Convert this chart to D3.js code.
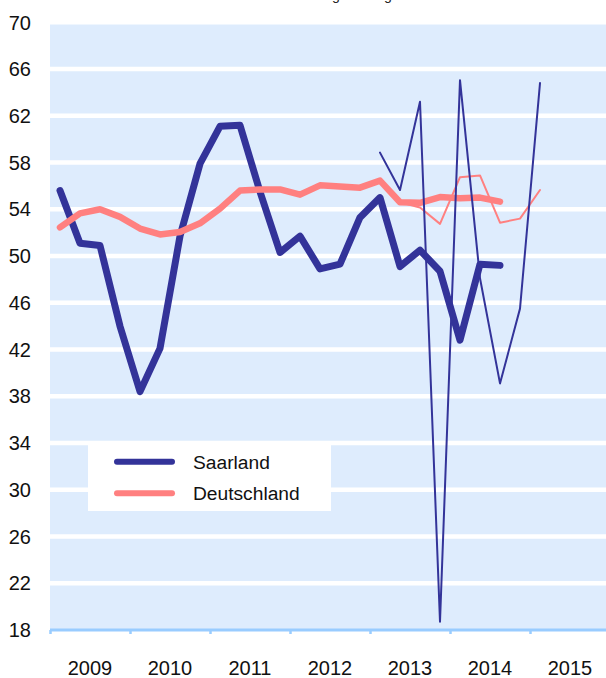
<!DOCTYPE html>
<html>
<head>
<meta charset="utf-8">
<script src="https://cdn.jsdelivr.net/npm/d3@7"></script>
<style>
  body { margin: 0; background: #fff; }
  svg { display: block; font-family: "Liberation Sans", Arial, sans-serif; }
</style>
</head>
<body>
<div id="chart"></div>
<script>
// quarters 2009 Q1 .. 2015 Q1
var quarters = [
  "2009Q1","2009Q2","2009Q3","2009Q4","2010Q1","2010Q2","2010Q3","2010Q4",
  "2011Q1","2011Q2","2011Q3","2011Q4","2012Q1","2012Q2","2012Q3","2012Q4",
  "2013Q1","2013Q2","2013Q3","2013Q4","2014Q1","2014Q2","2014Q3","2014Q4",
  "2015Q1"
];
var years = [2009, 2010, 2011, 2012, 2013, 2014, 2015];
var yTicks = [18, 22, 26, 30, 34, 38, 42, 46, 50, 54, 58, 62, 66, 70];

var saarland = [55.6, 51.1, 50.9, 44.0, 38.4, 42.1, 51.7, 57.9, 61.1, 61.2, 55.5, 50.3,
  51.7, 48.9, 49.3, 53.3, 55.0, 49.1, 50.5, 48.7, 42.8, 49.3, 49.2];
var deutschland = [52.45, 53.65, 54.0, 53.35, 52.35, 51.85, 52.05, 52.8, 54.05, 55.6, 55.7, 55.7,
  55.25, 56.05, 55.95, 55.85, 56.45, 54.6, 54.55, 55.05, 54.95, 55.0, 54.65];
// thin lines (second series, from 2013Q1)
var saarlandThin = [null, null, null, null, null, null, null, null, null, null, null, null,
  null, null, null, null, 58.85, 55.65, 63.2, 18.7, 65.05, 48.1, 39.1, 45.5, 64.8];
var deutschlandThin = [null, null, null, null, null, null, null, null, null, null, null, null,
  null, null, null, null, 56.45, 54.6, 54.15, 52.75, 56.75, 56.9, 52.85, 53.2, 55.65];

var width = 606, height = 678;
var margin = {top: 22.3, left: 50, bottom: 48};

var svg = d3.select("#chart").append("svg")
  .attr("width", width)
  .attr("height", height);

function qNum(q) {
  return +q.slice(0, 4) + (+q.slice(5) - 0.5) / 4;
}

var x = d3.scaleLinear().domain([2009, 2016]).range([margin.left, margin.left + 560]);
var y = d3.scaleLinear().domain([18, 70]).range([height - margin.bottom, margin.top]);

// title (mostly above the visible area)
svg.append("text")
  .attr("x", 268).attr("y", -0.5)
  .attr("font-size", 14.2)
  .attr("fill", "#222")
  .text("Beurteilung der Lage");

// plot background
svg.append("rect")
  .attr("x", margin.left).attr("y", y(70))
  .attr("width", width - margin.left).attr("height", y(18) - y(70))
  .attr("fill", "#deecfd");

// gridlines
svg.append("g").selectAll("line")
  .data(yTicks.filter(function(d) { return d > 18; }))
  .enter().append("line")
    .attr("x1", margin.left).attr("x2", width)
    .attr("y1", function(d) { return y(d); })
    .attr("y2", function(d) { return y(d); })
    .attr("stroke", "#fff")
    .attr("stroke-width", 4.5);

// y labels
svg.append("g").selectAll("text")
  .data(yTicks)
  .enter().append("text")
    .attr("x", 31)
    .attr("y", function(d) { return y(d); })
    .attr("dy", "0.36em")
    .attr("text-anchor", "end")
    .attr("font-size", 20)
    .attr("fill", "#111")
    .text(function(d) { return d; });

// x axis
var xAxis = svg.append("g")
  .attr("transform", "translate(0," + y(18) + ")")
  .call(d3.axisBottom(x).tickValues(d3.range(2009, 2017)).tickSize(4).tickFormat(""));
xAxis.select(".domain").remove();
xAxis.selectAll(".tick line").attr("stroke", "#99ccff").attr("stroke-width", 2.5);
xAxis.append("line")
  .attr("x1", margin.left).attr("x2", width)
  .attr("stroke", "#99ccff").attr("stroke-width", 3);

svg.append("g").selectAll("text")
  .data(years)
  .enter().append("text")
    .attr("x", function(d) { return x(d + 0.5); })
    .attr("y", 675)
    .attr("text-anchor", "middle")
    .attr("font-size", 20)
    .attr("fill", "#111")
    .text(function(d) { return d; });

// lines
var line = d3.line()
  .defined(function(d) { return d.v != null; })
  .x(function(d) { return x(qNum(d.q)); })
  .y(function(d) { return y(d.v); });

function series(vals) {
  return vals.map(function(v, i) { return {q: quarters[i], v: v}; });
}

function drawLine(vals, color, w) {
  svg.append("path")
    .datum(series(vals))
    .attr("d", line)
    .attr("fill", "none")
    .attr("stroke", color)
    .attr("stroke-width", w)
    .attr("stroke-linejoin", "round")
    .attr("stroke-linecap", "round");
}

drawLine(saarland, "#333399", 7);
drawLine(deutschland, "#ff8080", 6.5);
drawLine(deutschlandThin, "#ff8080", 2);
drawLine(saarlandThin, "#333399", 2);

// legend
var legend = svg.append("g");
legend.append("rect")
  .attr("x", 88).attr("y", 443)
  .attr("width", 243).attr("height", 68)
  .attr("fill", "#fff");

var legendItems = [
  {name: "Saarland", color: "#333399", y: 461.7},
  {name: "Deutschland", color: "#ff8080", y: 493.3}
];
legendItems.forEach(function(it) {
  legend.append("line")
    .attr("x1", 117).attr("x2", 172)
    .attr("y1", it.y).attr("y2", it.y)
    .attr("stroke", it.color)
    .attr("stroke-width", 6)
    .attr("stroke-linecap", "round");
  legend.append("text")
    .attr("x", 193).attr("y", it.y + 6.8)
    .attr("font-size", 19.2)
    .attr("fill", "#111")
    .text(it.name);
});
</script>
</body>
</html>
